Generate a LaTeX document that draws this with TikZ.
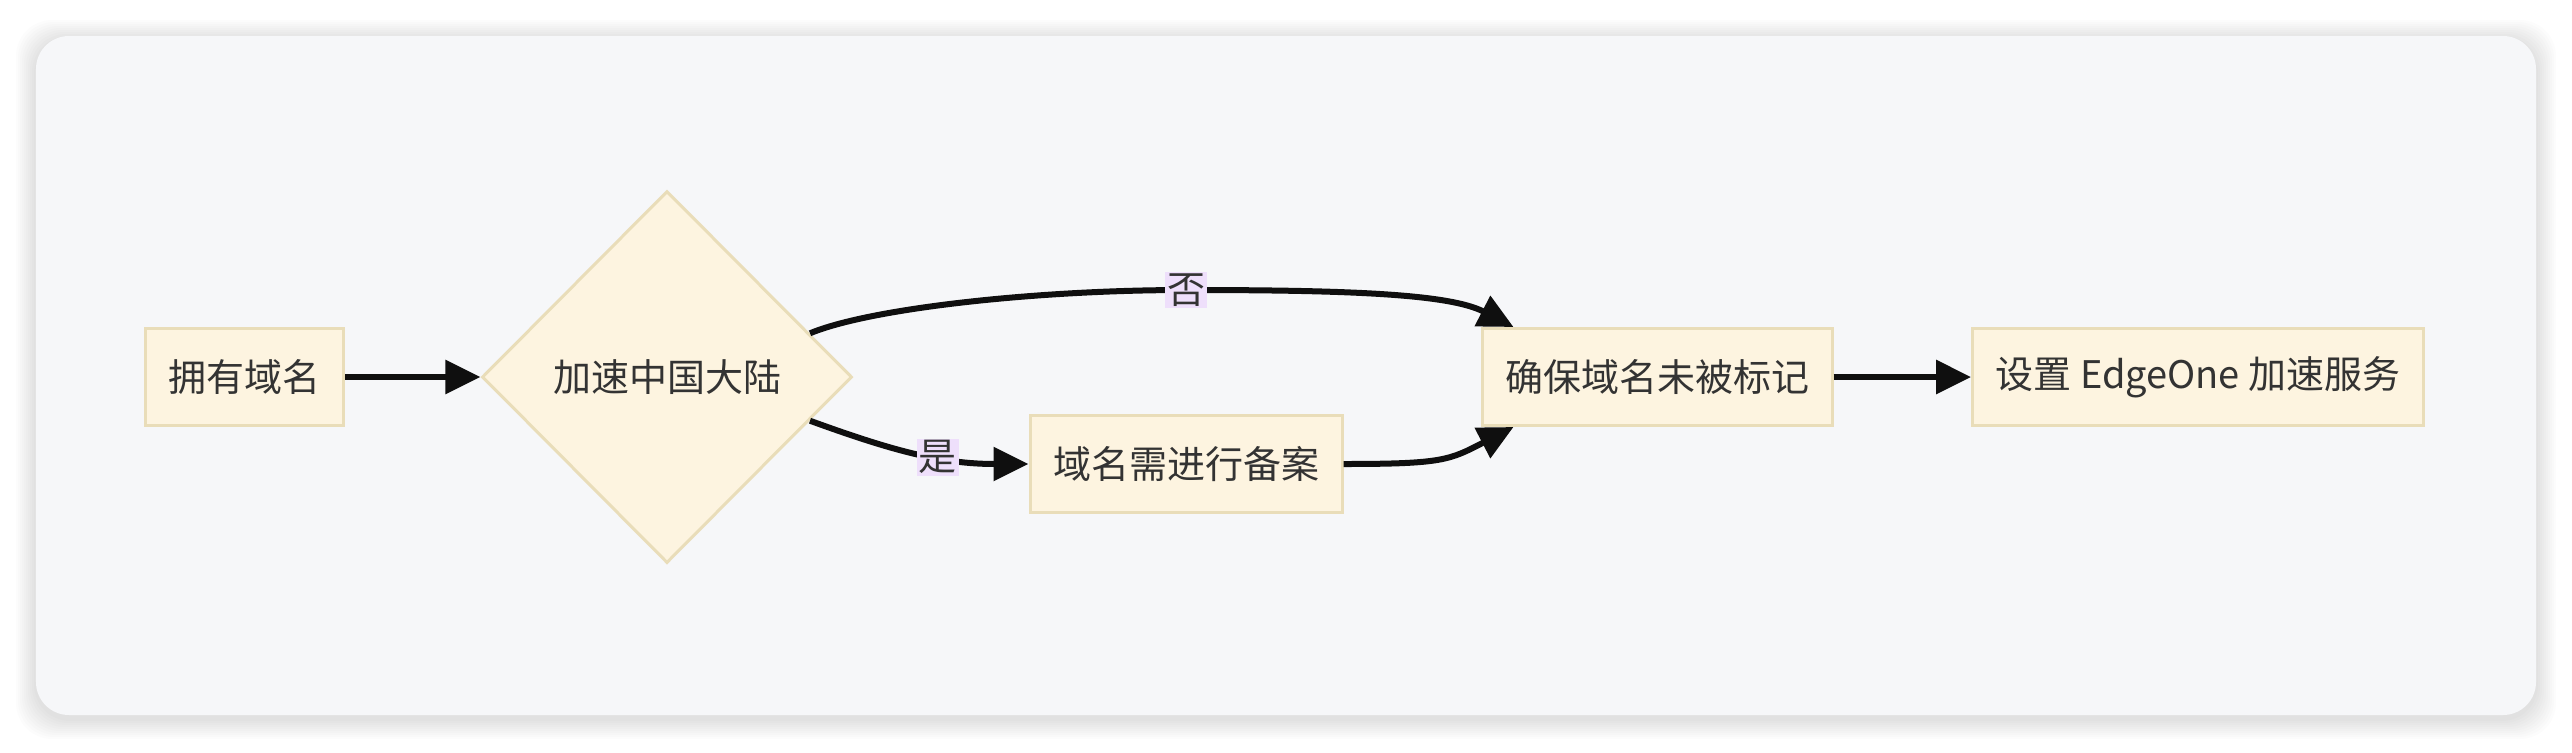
\documentclass[tikz,border=0pt]{standalone}
\usepackage{fontspec}
\setmainfont{Noto Sans CJK SC}
\usetikzlibrary{shapes,arrows.meta}
\definecolor{nodefill}{HTML}{FDF4E0}
\definecolor{nodeline}{HTML}{E9DDB9}
\definecolor{lblfill}{HTML}{EEDFFB}
\definecolor{cardfill}{HTML}{F6F7F9}
\definecolor{txt}{HTML}{333333}
\definecolor{wire}{HTML}{0F0F0F}
\tikzset{
  block/.style    = {draw=nodeline, line width=1.5pt, fill=nodefill, rectangle, minimum height=48.5pt, inner xsep=11.5pt, text=txt},
  decision/.style = {draw=nodeline, line width=1.5pt, fill=nodefill, diamond, minimum width=185pt, minimum height=186pt, inner sep=0pt, text=txt},
  lbl/.style      = {fill=lblfill, inner xsep=1pt, inner ysep=1pt, text=txt},
  wireline/.style = {draw=wire, line width=3pt},
  link/.style     = {wireline, ->}
}

\begin{document}
\begin{tikzpicture}[font=\fontsize{19pt}{23pt}\selectfont, >={Triangle[length=17.5pt,width=16.5pt]}]

\useasboundingbox (-122.5pt,-187.5pt) rectangle (1163.5pt,188.5pt);

% Card
\foreach \s in {1,...,10}
  \fill[black, opacity=0.012, rounded corners=18pt, yshift=-2pt] (-104.5pt-\s pt,-169pt-\s pt) rectangle (1145.5pt+\s pt,170.5pt+\s pt);
\fill[cardfill, rounded corners=16.5pt] (-104.5pt,-169pt) rectangle (1145.5pt,170.5pt);

% Nodes
\draw node [block, name=own] at (0,0) {拥有域名};
\draw node [decision, right of=own, node distance=211pt] (cn) {加速中国大陆};
\draw node [block, right of=cn, yshift=-43.5pt, node distance=259.5pt] (rec) {域名需进行备案};
\draw node [block, right of=cn, node distance=495pt] (ok) {确保域名未被标记};
\draw node [block, right of=ok, node distance=270.5pt] (eo) {设置 EdgeOne 加速服务};
\coordinate [above of=rec, node distance=87pt] (nopt);

% Connections
\draw[link](own) -- (cn);
\draw[wireline](cn.17) .. controls +(30pt,12.5pt) and +(-75pt,0pt) .. (nopt);
\draw[link](nopt) .. controls +(82pt,0pt) and +(-32pt,16.5pt) .. ([xshift=16.5pt]ok.north west);
\draw node [lbl] at (nopt) {否};
\draw[link](cn.-17) to[out=-20,in=180] node [lbl, pos=0.6] {是} (rec);
\draw[link](rec.east) .. controls +(50pt,0pt) and +(-32pt,-16.5pt) .. ([xshift=16.5pt]ok.south west);
\draw[link](ok) -- (eo);

\end{tikzpicture}
\end{document}
